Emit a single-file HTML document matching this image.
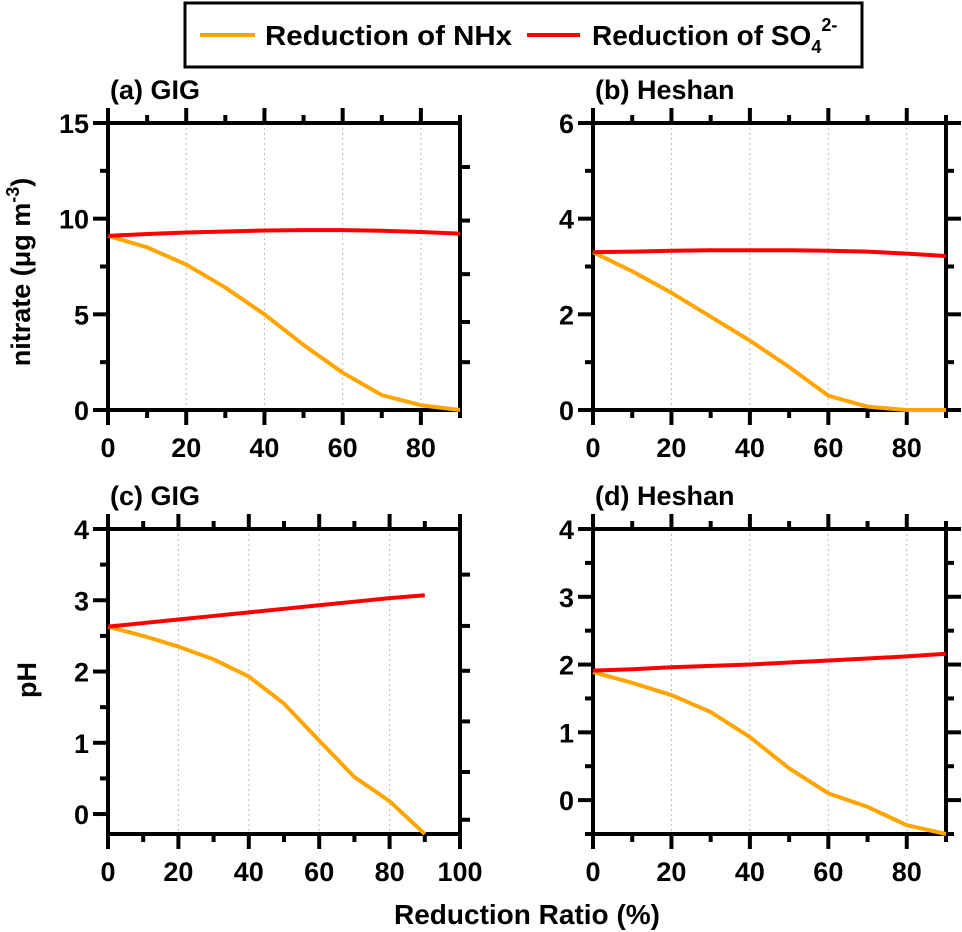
<!DOCTYPE html>
<html><head><meta charset="utf-8">
<style>
html,body{margin:0;padding:0;background:#fff;}
svg{display:block;font-family:"Liberation Sans",Arial,sans-serif;font-weight:bold;}
</style></head>
<body>
<svg id="chart" width="962" height="932" viewBox="0 0 962 932" xmlns="http://www.w3.org/2000/svg">
  <g>
    <rect x="185" y="3" width="677" height="64" fill="#fff" stroke="#000" stroke-width="3"/>
    <line x1="200" y1="35" x2="255" y2="35" stroke="#FFA500" stroke-width="4"/>
    <text x="265" y="45" font-size="28" textLength="247" lengthAdjust="spacingAndGlyphs">Reduction of NHx</text>
    <line x1="527" y1="35" x2="580" y2="35" stroke="#FF0000" stroke-width="4"/>
    <text x="592" y="45" font-size="28">Reduction of SO<tspan font-size="18" dy="8">4</tspan><tspan font-size="18" dy="-22">2-</tspan></text>
  </g>
  <text x="30" y="272" font-size="27" text-anchor="middle" transform="rotate(-90 30 272)">nitrate (μg m<tspan font-size="18" dy="-11">-3</tspan><tspan dy="11">)</tspan></text>
  <text x="36" y="680" font-size="27" text-anchor="middle" transform="rotate(-90 36 680)">pH</text>
  <text x="527" y="924" font-size="28" text-anchor="middle">Reduction Ratio (%)</text>
  <g id="panels"></g>
</svg>
<script>
const xCats = [0,10,20,30,40,50,60,70,80,90];
const nhxA = [9.1,8.5,7.6,6.4,5.0,3.4,1.95,0.78,0.25,0.0];
const so4A = [9.1,9.2,9.28,9.33,9.38,9.4,9.4,9.37,9.3,9.22];
const nhxB = [3.3,2.9,2.45,1.95,1.45,0.9,0.3,0.07,0.0,0.0];
const so4B = [3.3,3.31,3.33,3.34,3.34,3.34,3.33,3.31,3.27,3.22];
const nhxC = [2.63,2.5,2.35,2.17,1.93,1.55,1.03,0.52,0.18,-0.28];
const so4C = [2.63,2.68,2.73,2.78,2.83,2.88,2.93,2.98,3.03,3.07];
const nhxD = [1.89,1.73,1.55,1.3,0.93,0.47,0.1,-0.1,-0.37,-0.5];
const so4D = [1.91,1.93,1.96,1.98,2.0,2.03,2.06,2.09,2.12,2.16];
const yTicksA = [0,5,10,15];
const yTicksB = [0,2,4,6];
const yTicksPH = [0,1,2,3,4];
const xTicks90 = [0,20,40,60,80];
const xTicks100 = [0,20,40,60,80,100];

const NS = "http://www.w3.org/2000/svg";
const root = document.getElementById('panels');
function mk(tag, attrs, parent){
  const e = document.createElementNS(NS, tag);
  for (const k in attrs) e.setAttribute(k, attrs[k]);
  parent.appendChild(e);
  return e;
}
const panels = [
  {id:'a', title:'(a) GIG', L:108, R:460, T:123, B:410, x0:0, x1:90, y0:0, y1:15, yt:yTicksA, yminor:2.5, xt:xTicks90, nhx:nhxA, so4:so4A, rightT:[12.7,9.9,7.1,4.6,2.5]},
  {id:'b', title:'(b) Heshan', L:593, R:946, T:123, B:410, x0:0, x1:90, y0:0, y1:6, yt:yTicksB, yminor:1, xt:xTicks90, nhx:nhxB, so4:so4B, rightT:null},
  {id:'c', title:'(c) GIG', L:108, R:460, T:529, B:834, x0:0, x1:100, y0:-0.28, y1:4, yt:yTicksPH, yminor:0.5, xt:xTicks100, nhx:nhxC, so4:so4C, rightT:[3.36,2.64,2.01,1.3,0.59,-0.08]},
  {id:'d', title:'(d) Heshan', L:593, R:946, T:529, B:834, x0:0, x1:90, y0:-0.5, y1:4, yt:yTicksPH, yminor:0.5, xt:xTicks90, nhx:nhxD, so4:so4D, rightT:null}
];
panels.forEach(p=>{
  const g = mk('g',{}, root);
  
  
  const sx = v => p.L + (v-p.x0)/(p.x1-p.x0)*(p.R-p.L);
  const sy = v => p.B - (v-p.y0)/(p.y1-p.y0)*(p.B-p.T);
  const t = mk('text',{x:p.L+2, y:p.T-24, 'font-size':27}, g);
  t.textContent = p.title;
  
  
  p.xt.forEach(v=>{
    const gl = mk('line',{x1:sx(v),x2:sx(v),y1:p.T,y2:p.B,stroke:'#bbb','stroke-width':1,'stroke-dasharray':'2,3'}, g);
    
    
  });
  for (let v=p.x0; v<=p.x1+0.01; v+=10){
    const major = v%20===0;
    const len = major?15:8;
    mk('line',{x1:sx(v),x2:sx(v),y1:p.B,y2:p.B+len,stroke:'#000','stroke-width':4}, g);
    mk('line',{x1:sx(v),x2:sx(v),y1:p.T,y2:p.T-len,stroke:'#000','stroke-width':4}, g);
  }
  p.xt.forEach(v=>{
    const l = mk('text',{x:sx(v), y:p.B+47, 'font-size':27, 'text-anchor':'middle'}, g);
    l.textContent = v;
    
    
  });
  const start = Math.ceil(p.y0/p.yminor)*p.yminor;
  for (let v=start; v<=p.y1+1e-6; v+=p.yminor){
    const isMajor = p.yt.some(m=>Math.abs(m-v)<1e-6);
    const len = isMajor?15:8;
    mk('line',{x1:p.L,x2:p.L-len,y1:sy(v),y2:sy(v),stroke:'#000','stroke-width':4}, g);
    if (!p.rightT) mk('line',{x1:p.R,x2:p.R+len,y1:sy(v),y2:sy(v),stroke:'#000','stroke-width':4}, g);
  }
  if (p.rightT) p.rightT.forEach(v=>{
    mk('line',{x1:p.R,x2:p.R+10,y1:sy(v),y2:sy(v),stroke:'#000','stroke-width':4}, g);
  });
  p.yt.forEach(v=>{
    const l = mk('text',{x:p.L-19, y:sy(v)+10, 'font-size':27, 'text-anchor':'end'}, g);
    l.textContent = v;
    
    
  });
  const f = mk('rect',{x:p.L,y:p.T,width:p.R-p.L,height:p.B-p.T,fill:'none',stroke:'#000','stroke-width':4}, g);
  
  
  const ptsN = xCats.map((x,i)=>sx(x)+','+sy(p.nhx[i])).join(' ');
  const ptsS = xCats.map((x,i)=>sx(x)+','+sy(p.so4[i])).join(' ');
  const ln = mk('polyline',{points:ptsN,fill:'none',stroke:'#FFA500','stroke-width':4,'stroke-linejoin':'round'}, g);
  
  
  const ls = mk('polyline',{points:ptsS,fill:'none',stroke:'#FF0000','stroke-width':4,'stroke-linejoin':'round'}, g);
  
  
});
</script>
</body></html>
